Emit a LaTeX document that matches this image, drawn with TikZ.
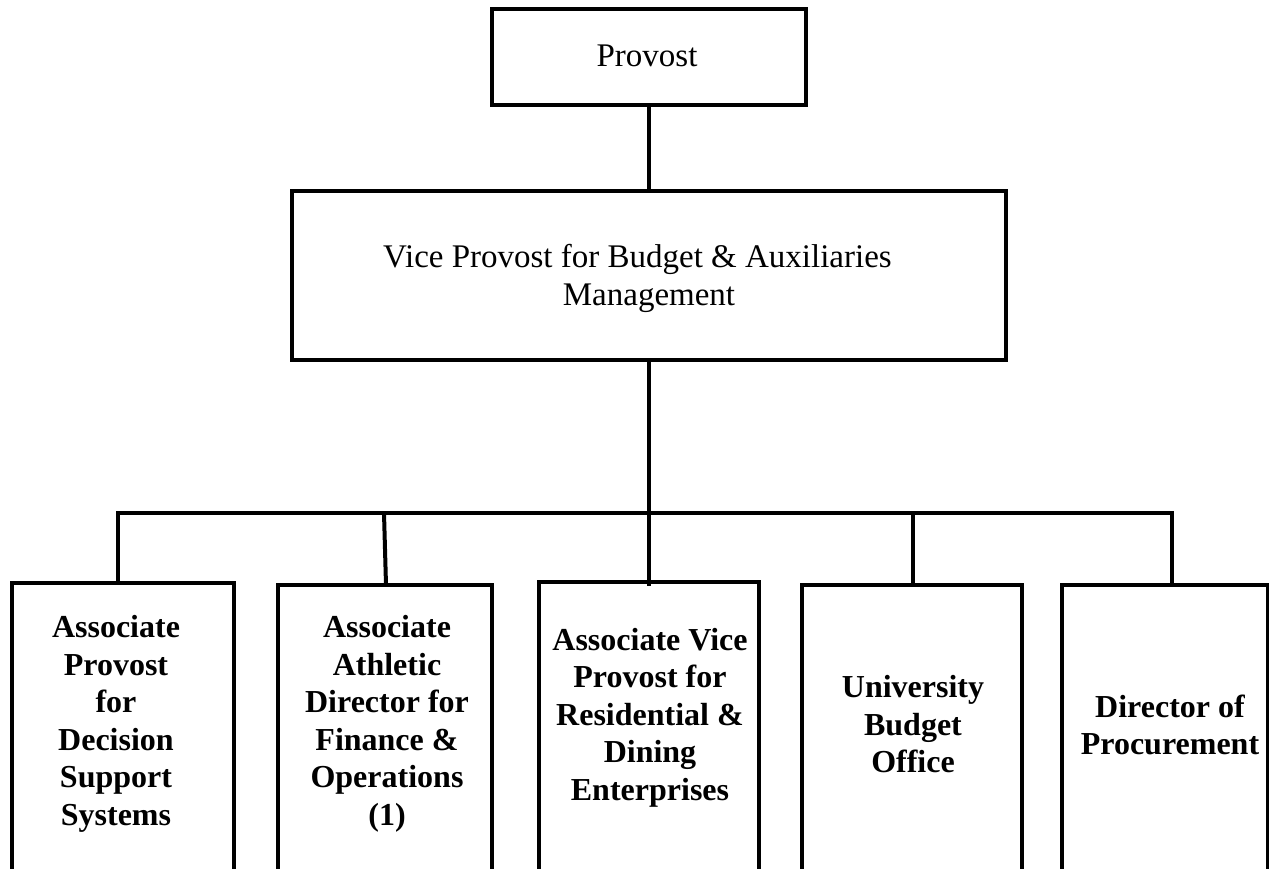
\documentclass[tikz,border=0pt]{standalone}
\usepackage{fontspec}
\setmainfont{Liberation Serif}
\begin{document}
\begin{tikzpicture}[x=1pt,y=-1pt,
  box/.style={draw,line width=4pt,inner sep=0pt,outer sep=0pt},
  conn/.style={line width=4pt},
  toptext/.style={inner sep=0pt,align=center,font=\fontsize{33}{38}\selectfont},
  bottext/.style={inner sep=0pt,align=center,font=\bfseries\fontsize{32}{37.5}\selectfont}]
\useasboundingbox (0,0) rectangle (1269,869);
\clip (0,0) rectangle (1269,869);
% top boxes
\node[box,minimum width=314pt,minimum height=96pt] (prov) at (649,57) {};
\node[box,minimum width=714pt,minimum height=169pt] (vp) at (649,275.5) {};
\node[toptext,anchor=base] (tprov) at (647,67) {Provost};
\node[toptext] (tvp) at (649,278.4) {Vice Provost for Budget \& Auxiliaries\kern23pt\\Management};
% bottom boxes
\node[box,anchor=north,minimum width=222pt,minimum height=320pt] (b1) at (123,583) {};
\node[box,anchor=north,minimum width=214pt,minimum height=320pt] (b2) at (385,585) {};
\node[box,anchor=north,minimum width=220pt,minimum height=320pt] (b3) at (649,582) {};
\node[box,anchor=north,minimum width=220pt,minimum height=320pt] (b4) at (912,585) {};
\node[box,anchor=north,minimum width=206pt,minimum height=320pt] (b5) at (1165,585) {};
\node[bottext] (t1) at (116,723.6) {Associate\\Provost\\for\\Decision\\Support\\Systems};
\node[bottext] (t2) at (387,724) {Associate\\Athletic\\Director for\\Finance \&\\Operations\\(1)};
\node[bottext] (t3) at (650,717.5) {Associate Vice\\Provost for\\Residential \&\\Dining\\Enterprises};
\node[bottext] (t4) at (913,724.5) {University\\Budget\\Office};
\node[bottext] (t5) at (1170,725) {Director of\\Procurement};
% connectors
\coordinate (j1) at (118,513);
\coordinate (j2) at (384,513);
\coordinate (j4) at (913,513);
\coordinate (j5) at (1172,513);
\draw[conn] (prov.south) -- (vp.north);
\draw[conn] (vp.south) -- ([yshift=-4pt]b3.north);
\draw[conn] (j1 |- b1.north) -- (j1) -- (j5) -- (j5 |- b5.north);
\draw[conn] (j2) -- ([xshift=1pt]b2.north);
\draw[conn] (j4) -- (j4 |- b4.north);
\end{tikzpicture}
\end{document}
